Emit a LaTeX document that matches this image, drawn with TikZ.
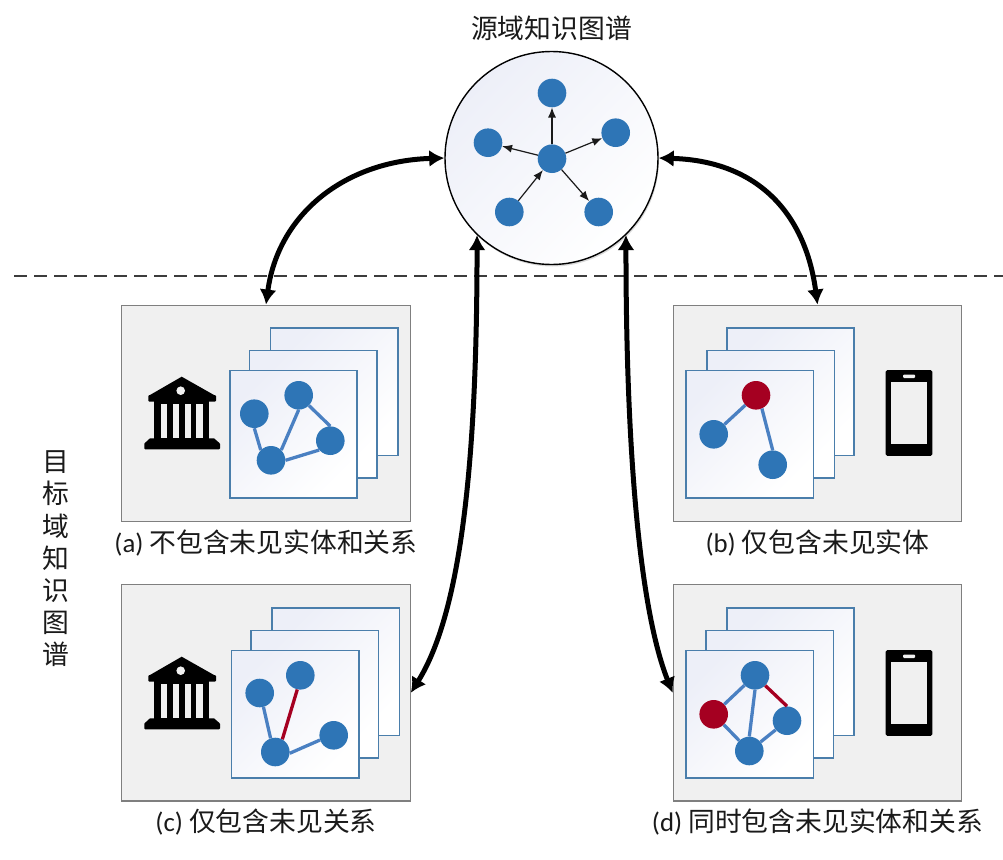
\documentclass[tikz,border=0pt]{standalone}
\usepackage{fontspec}
\setmainfont{Carlito}
\newfontfamily\cjk{Noto Sans CJK SC}
\usetikzlibrary{positioning, shadows, arrows.meta}
\definecolor{panelbg}{HTML}{F0F0F0}
\definecolor{panelline}{HTML}{7F7F7F}
\definecolor{sheetline}{HTML}{4A7EAB}
\definecolor{sheettint}{HTML}{EDEFF8}
\definecolor{nodeblue}{HTML}{2E75B6}
\definecolor{edgeblue}{HTML}{4A80C2}
\definecolor{nodered}{HTML}{A50021}
\definecolor{inktext}{HTML}{1A1A1A}
\tikzset{
    panel/.style={draw=panelline, fill=panelbg, line width=1.2pt, minimum width=288.5pt, minimum height=216.5pt, inner sep=0pt},
    sheet/.style={draw=sheetline, line width=1.7pt, top color=sheettint, middle color=sheettint!15!white, bottom color=white, shading angle=45, minimum size=127.3pt, inner sep=0pt},
    entity/.style={circle, fill=nodeblue, minimum size=28.6pt, inner sep=0pt},
    newentity/.style={entity, fill=nodered},
    rel/.style={draw=edgeblue, line width=3.3pt},
    newrel/.style={draw=nodered, line width=3.3pt},
    small arrow/.style={-{Latex[length=10pt, width=8pt]}, line width=1.2pt, color=inktext},
    link/.style={{Latex[length=15pt, width=17pt]}-{Latex[length=15pt, width=17pt]}, line width=5pt, color=black},
    caption/.style={font=\fontsize{26.8}{32.2}\selectfont, text=inktext, inner sep=0pt},
    temple/.pic={
        \fill[black] (-0.3,-36.3) -- (32,-18) -- (-32,-18) -- cycle;
        \fill[black, rounded corners=1pt] (-33.7,-18) rectangle (34,-11.3);
        \fill[panelbg] (-1.3,-22.3) circle (4.3);
        \fill[black] (-27.7,-12) rectangle (27,28);
        \foreach \gapl/\gapr in {-21/-15, -9/-3, 3/9, 14.3/21}
            \fill[panelbg] (\gapl,-9) rectangle (\gapr,25.3);
        \fill[black] (-32,25.3) -- (32,25.3) -- (38,30.5) -- (-37.7,30.5) -- cycle;
        \fill[black, rounded corners=1pt] (-37.7,30) rectangle (38,36.3);
    },
    phone/.pic={
        \fill[black, rounded corners=1.5pt] (-23.3,-42.8) rectangle (23.3,42.8);
        \fill[panelbg] (-17.7,-31.2) rectangle (17.7,31.2);
        \fill[panelbg, rounded corners=1pt] (-6,-38.5) rectangle (6,-35);
    }
}

\begin{document}
\begin{tikzpicture}[x=1pt, y=-1pt]
    \path[use as bounding box] (0,0) rectangle (1003,859);

    \draw[line width=2pt, color=inktext!85!white, dash pattern=on 13pt off 7pt] (14,276) -- (1003,276);

    % source graph
    \node[circle, draw=black, line width=1.4pt, top color=sheettint, middle color=sheettint!15!white, bottom color=white, shading angle=45, minimum size=213pt, inner sep=0pt, drop shadow={shadow xshift=1pt, shadow yshift=-2pt, opacity=0.3}] (src) at (551.5,158) {};
    \node[caption, above=10pt of src] (srctitle) {\cjk 源域知识图谱};
    \node[entity] (s0) at (552,158.7) {};
    \node[entity] (s1) at (552,93) {};
    \node[entity] (s2) at (615.7,132.7) {};
    \node[entity] (s3) at (488,142.7) {};
    \node[entity] (s4) at (509.3,212) {};
    \node[entity] (s5) at (598.7,212) {};
    \draw[small arrow] (s0) -- (s1);
    \draw[small arrow] (s0) -- (s2);
    \draw[small arrow] (s0) -- (s3);
    \draw[small arrow] (s4) -- (s0);
    \draw[small arrow] (s0) -- (s5);

    % panel a
    \node[panel] (pa) at (266,413.4) {};
    \node[caption, below=7pt of pa] (capa) {(a) {\cjk 不包含未见实体和关系}};
    \node[sheet] (sa3) at (334,391.7) {};
    \node[sheet] (sa2) at (313.2,414.2) {};
    \node[sheet] (sa1) at (293.3,434) {};
    \pic (ta) at (182,413) {temple};
    \node[entity] (a1) at (254.3,413.7) {};
    \node[entity] (a2) at (298.7,395.3) {};
    \node[entity] (a3) at (330.3,440.7) {};
    \node[entity] (a4) at (271,460.3) {};
    \draw[rel] (a1.south) -- (a4.135);
    \draw[rel] (a2.south) -- (a4.45);
    \draw[rel] (a2.-45) -- (a3.north);
    \draw[rel] (a3.220) -- (a4.east);

    % panel b
    \node[panel] (pb) at (817.5,413.4) {};
    \node[caption, below=7pt of pb] (capb) {(b) {\cjk 仅包含未见实体}};
    \node[sheet] (sb3) at (790.5,391.7) {};
    \node[sheet] (sb2) at (770.7,414.2) {};
    \node[sheet] (sb1) at (749.9,434) {};
    \pic (fb) at (909,413) {phone};
    \node[newentity] (b1) at (756,395.3) {};
    \node[entity] (b2) at (713.7,434.3) {};
    \node[entity] (b3) at (772.7,464.7) {};
    \draw[rel] (b1) -- (b2);
    \draw[rel] (b1.-66) -- (b3.north);

    % panel c
    \node[panel] (pc) at (266,692.8) {};
    \node[caption, below=7pt of pc] (capc) {(c) {\cjk 仅包含未见关系}};
    \node[sheet] (sc3) at (335.8,671.7) {};
    \node[sheet] (sc2) at (314.8,694.2) {};
    \node[sheet] (sc1) at (295,714) {};
    \pic (tc) at (182,693) {temple};
    \node[entity] (c1) at (259.7,693) {};
    \node[entity] (c2) at (300.3,675.3) {};
    \node[entity] (c3) at (333.7,735.3) {};
    \node[entity] (c4) at (275.3,752) {};
    \draw[rel] (c1.-75) -- (c4.109);
    \draw[newrel] (c2.258) -- (c4.61);
    \draw[rel] (c3.199) -- (c4.-5);

    % panel d
    \node[panel] (pd) at (817.5,692.8) {};
    \node[caption, below=7pt of pd] (capd) {(d) {\cjk 同时包含未见实体和关系}};
    \node[sheet] (sd3) at (790.5,671.7) {};
    \node[sheet] (sd2) at (769.7,694.2) {};
    \node[sheet] (sd1) at (749.9,714) {};
    \pic (fd) at (909,693) {phone};
    \node[entity] (d1) at (755,675.3) {};
    \node[newentity] (d2) at (713.7,714.3) {};
    \node[entity] (d3) at (787,720.7) {};
    \node[entity] (d4) at (749.3,751) {};
    \draw[rel] (d1) -- (d2);
    \draw[rel] (d2) -- (d4);
    \draw[rel] (d1.south) -- (d4.north);
    \draw[rel] (d3) -- (d4);
    \draw[newrel] (d1.-45) -- (d3.north);

    \node[caption, align=center] (tgtlabel) at (55.5,559) {\cjk 目\\\cjk 标\\\cjk 域\\\cjk 知\\\cjk 识\\\cjk 图\\\cjk 谱};

    \draw[link] (src.180) .. controls +(-100,3) and +(12,-90) .. (pa.north);
    \draw[link] (src.0) .. controls +(100,3) and +(-12,-90) .. (pb.north);
    \draw[link] (src.226) .. controls +(0,215) and +(52,-83) .. (pc.east);
    \draw[link] (src.314) .. controls +(0,215) and +(-33,-83) .. (pd.west);
\end{tikzpicture}
\end{document}
